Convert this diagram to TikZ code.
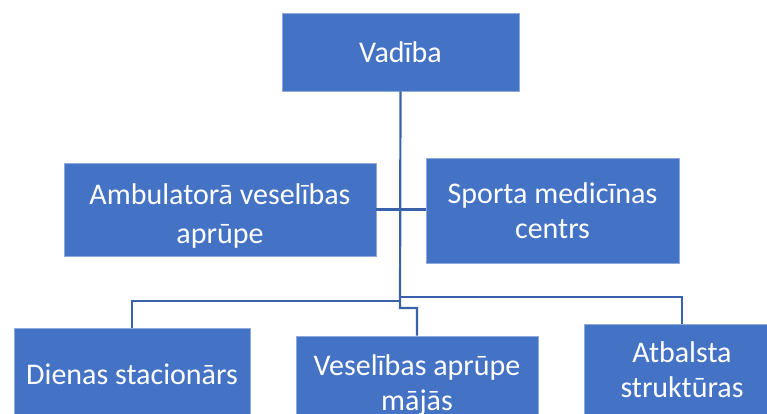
\documentclass[tikz,border=0pt]{standalone}
\usepackage{fontspec}
\setmainfont{Carlito}
\definecolor{boxfill}{HTML}{4472C4}
\definecolor{boxedge}{HTML}{8EA9DB}
\definecolor{linkcol}{HTML}{3A62AA}
\begin{document}
\begin{tikzpicture}[x=1pt,y=-1pt,
  orgbox/.style={rectangle, fill=boxfill, draw=boxedge, line width=0.8pt,
    text=white, align=center, inner sep=0pt,
    font=\fontsize{30}{35}\selectfont},
  orgtext/.style={text=white, align=center, inner sep=0pt,
    font=\fontsize{30}{39}\selectfont},
  link/.style={draw=linkcol, line width=2.2pt}]
\useasboundingbox (0,0) rectangle (767,414);
\clip (0,0) rectangle (767,414);
\node[orgbox, minimum width=237pt, minimum height=78pt] (vad) at (400.5,52) {Vadība};
\node[orgbox, minimum width=312pt, minimum height=93pt] (amb) at (220,209.5) {};
\node[orgtext] (ambt) at (220,216) {Ambulatorā veselības\\aprūpe};
\node[orgbox, minimum width=253pt, minimum height=105pt] (spo) at (552.5,211) {Sporta medicīnas\\centrs};
\node[orgbox, minimum width=236pt, minimum height=92pt] (die) at (132,374) {Dienas stacionārs};
\node[orgbox, minimum width=242pt, minimum height=98pt] (ves) at (417,385) {Veselības aprūpe\\mājās};
\node[orgbox, minimum width=196pt, minimum height=92pt] (atb) at (682,370) {Atbalsta\\struktūras};
\coordinate (jr) at (400,297);
\coordinate (jl) at (400,301);
\coordinate (jm) at (400,308);
\draw[link] (amb.east) -- (spo.west |- amb.east);
\draw[link] (vad.south) -- (jm) -| (ves.north);
\draw[link] (jl) -| (die.north);
\draw[link] (jr) -| (atb.north);
\end{tikzpicture}
\end{document}
